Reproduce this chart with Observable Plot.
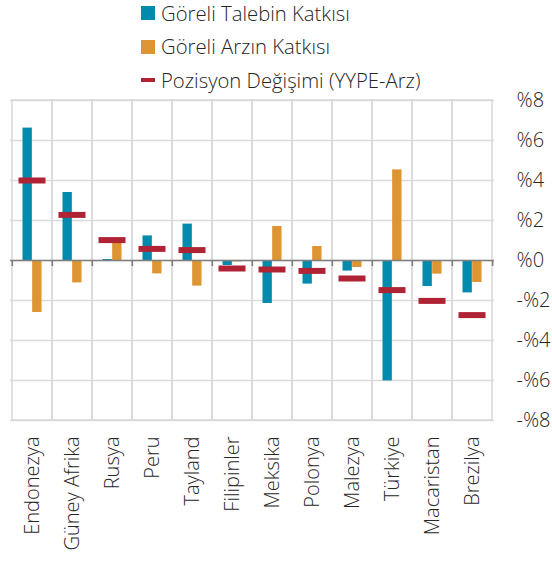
<!DOCTYPE html>
<html>
<head>
<meta charset="utf-8">
<script src="https://cdn.jsdelivr.net/npm/d3@7"></script>
<script src="https://cdn.jsdelivr.net/npm/@observablehq/plot@0.6"></script>
<style>
  html, body { margin: 0; padding: 0; background: #fff; }
  body { width: 552px; height: 567px; overflow: hidden; font-family: "Open Sans", sans-serif; font-weight: 300; color: #262626; }
  #legend { position: relative; height: 80px; }
  .item { position: absolute; left: 141px; display: flex; align-items: center; font-size: 20.3px; line-height: 1.15; white-space: nowrap; }
  .sw { width: 14px; height: 14px; margin-right: 6px; }
  .ln { width: 14px; height: 4px; margin-right: 6px; }
  svg text { font-weight: 300; }
</style>
</head>
<body>
<div id="legend"></div>
<div id="chart"></div>
<script>
const countries = ["Endonezya","Güney Afrika","Rusya","Peru","Tayland","Filipinler","Meksika","Polonya","Malezya","Türkiye","Macaristan","Brezilya"];
const demand = [6.62, 3.4, 0.05, 1.23, 1.82, -0.25, -2.15, -1.18, -0.53, -6.02, -1.3, -1.62];
const supply = [-2.6, -1.12, 0.9, -0.67, -1.28, -0.07, 1.7, 0.7, -0.35, 4.53, -0.68, -1.1];
const position = [4.0, 2.28, 1.02, 0.58, 0.52, -0.4, -0.45, -0.52, -0.9, -1.48, -2.02, -2.73];
const yTicks = [-8, -6, -4, -2, 0, 2, 4, 6, 8];
const seriesNames = ["Göreli Talebin Katkısı", "Göreli Arzın Katkısı", "Pozisyon Değişimi (YYPE-Arz)"];
const colors = ["#008aad", "#dd9433", "#b02335"];

const data = countries.map((c, i) => ({country: c, demand: demand[i], supply: supply[i], position: position[i]}));

// legend
const legend = document.getElementById("legend");
seriesNames.forEach((name, i) => {
  const it = document.createElement("div");
  it.className = "item";
  it.style.top = (1.5 + i * 33.5) + "px";
  const sw = document.createElement("span");
  sw.className = i === 2 ? "ln" : "sw";
  sw.style.background = colors[i];
  it.appendChild(sw);
  const t = document.createElement("span");
  t.textContent = name;
  it.appendChild(t);
  legend.appendChild(it);
});

const W = 552, mL = 10, mR = 58;
const bw = (W - mL - mR) / countries.length;
const fmt = d => (d < 0 ? "-" : "") + "%" + Math.abs(d);

const chart = Plot.plot({
  width: W,
  height: 487,
  marginTop: 20,
  marginBottom: 147,
  marginLeft: mL,
  marginRight: mR,
  style: {fontFamily: "'Open Sans', sans-serif", fontSize: "20px", color: "#262626", background: "#fff", overflow: "visible"},
  x: {type: "band", domain: countries, padding: 0},
  y: {domain: [-8, 8]},
  marks: [
    Plot.gridY(yTicks, {stroke: "#d9d9d9", strokeOpacity: 1, strokeWidth: 1.6}),
    Plot.barY(countries, {x: d => d, y1: -8, y2: 8, fill: "none", stroke: "#d9d9d9", strokeWidth: 1.6}),
    Plot.barY(data, {x: "country", y: "demand", fill: colors[0], insetLeft: 10.5, insetRight: bw / 2}),
    Plot.barY(data, {x: "country", y: "supply", fill: colors[1], insetLeft: bw / 2, insetRight: 10.5}),
    Plot.ruleY([0], {stroke: "#7f7f7f", strokeWidth: 1.6}),
    Plot.ruleX(countries, {x: d => d, y1: 0, y2: -0.3, dx: -bw / 2, stroke: "#7f7f7f", strokeWidth: 1.6}),
    Plot.ruleX(countries.slice(-1), {x: d => d, y1: 0, y2: -0.3, dx: bw / 2, stroke: "#7f7f7f", strokeWidth: 1.6}),
    Plot.tickY(data, {x: "country", y: "position", stroke: colors[2], strokeWidth: 6, inset: 6.5}),
    Plot.axisY(yTicks, {anchor: "right", tickSize: 0, tickPadding: 22, tickFormat: fmt, fill: "#262626"}),
    Plot.axisX({anchor: "bottom", tickSize: 0, tickPadding: 16, tickRotate: -90, fill: "#262626", label: null})
  ]
});
document.getElementById("chart").appendChild(chart);
</script>
</body>
</html>
